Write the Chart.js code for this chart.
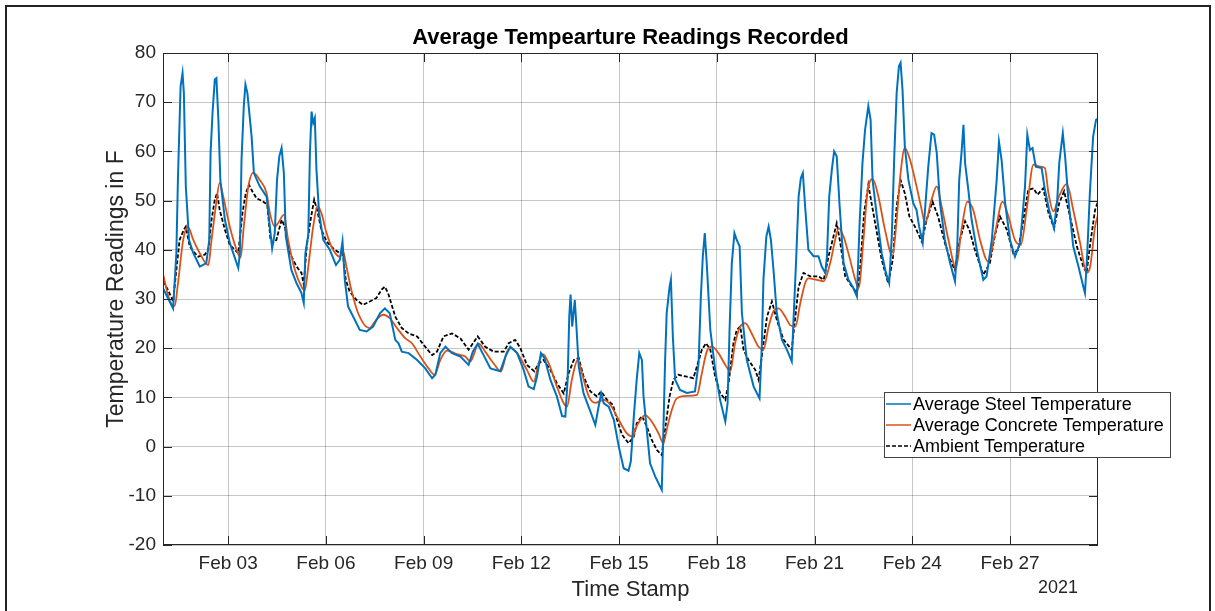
<!DOCTYPE html>
<html>
<head>
<meta charset="utf-8">
<script src="https://cdn.jsdelivr.net/npm/chart.js@4"></script>
<style>
    body { margin: 0; background: #fff; }
    #wrap { width: 1215px; height: 611px; position: relative; }
</style>
</head>
<body>
<div id="wrap"><canvas id="temp-chart"></canvas></div>
<script>
// time axis: day of February 2021 (3 = Feb 03 00:00)
const xTickDays = [3, 6, 9, 12, 15, 18, 21, 24, 27];
const xTickLabels = ['Feb 03', 'Feb 06', 'Feb 09', 'Feb 12', 'Feb 15', 'Feb 18', 'Feb 21', 'Feb 24', 'Feb 27'];
const yTicks = [-20, -10, 0, 10, 20, 30, 40, 50, 60, 70, 80];
const seriesNames = ['Average Steel Temperature', 'Average Concrete Temperature', 'Ambient Temperature'];

const steelTime = [1.00, 1.31, 1.41, 1.46, 1.54, 1.60, 1.64, 1.70, 1.80, 1.93, 2.13, 2.33, 2.42, 2.46, 2.52, 2.59, 2.64, 2.70, 2.76, 2.90,
    3.05, 3.31, 3.36, 3.41, 3.48, 3.53, 3.59, 3.64, 3.72, 3.79, 3.97, 4.18, 4.28, 4.35, 4.43, 4.50, 4.57, 4.64, 4.71, 4.77,
    4.94, 5.10, 5.25, 5.32, 5.37, 5.46, 5.51, 5.56, 5.61, 5.66, 5.71, 5.79, 5.92, 6.12, 6.31, 6.43, 6.51, 6.58, 6.68, 6.84,
    7.04, 7.25, 7.45, 7.66, 7.81, 7.96, 8.13, 8.23, 8.33, 8.54, 8.80, 9.05, 9.26, 9.36, 9.51, 9.67, 9.87, 10.13, 10.38, 10.51,
    10.66, 10.84, 11.05, 11.35, 11.51, 11.66, 11.87, 12.07, 12.22, 12.38, 12.48, 12.60, 12.71, 12.89, 13.09, 13.25, 13.35, 13.42, 13.47, 13.51,
    13.56, 13.64, 13.69, 13.76, 13.91, 14.12, 14.27, 14.37, 14.45, 14.53, 14.68, 14.84, 14.99, 15.14, 15.29, 15.36, 15.45, 15.54, 15.62, 15.70,
    15.75, 15.85, 15.95, 16.11, 16.31, 16.36, 16.41, 16.46, 16.55, 16.59, 16.65, 16.72, 16.87, 17.08, 17.33, 17.44, 17.51, 17.57, 17.63, 17.69,
    17.80, 17.95, 18.10, 18.26, 18.33, 18.39, 18.46, 18.54, 18.61, 18.70, 18.77, 18.92, 19.13, 19.31, 19.38, 19.43, 19.52, 19.59, 19.66, 19.74,
    19.84, 20.00, 20.15, 20.30, 20.35, 20.43, 20.51, 20.58, 20.64, 20.71, 20.81, 20.97, 21.12, 21.22, 21.33, 21.38, 21.45, 21.53, 21.60, 21.68,
    21.77, 21.89, 22.04, 22.17, 22.30, 22.38, 22.47, 22.55, 22.65, 22.72, 22.78, 22.90, 23.06, 23.19, 23.29, 23.37, 23.45, 23.52, 23.59, 23.64,
    23.70, 23.77, 23.88, 24.03, 24.13, 24.21, 24.32, 24.39, 24.49, 24.59, 24.67, 24.75, 24.85, 25.00, 25.16, 25.31, 25.38, 25.44, 25.51, 25.57,
    25.62, 25.72, 25.82, 25.98, 26.18, 26.28, 26.44, 26.59, 26.66, 26.74, 26.85, 27.00, 27.15, 27.31, 27.46, 27.53, 27.61, 27.69, 27.79, 27.97,
    28.07, 28.20, 28.35, 28.45, 28.51, 28.62, 28.69, 28.79, 28.94, 29.10, 29.25, 29.30, 29.37, 29.45, 29.55, 29.64, 29.72];
const steelTemp = [32.2, 28.1, 39.3, 54.9, 73.2, 75.9, 71.9, 52.9, 42, 39.3, 36.6, 37.3, 42, 59.7, 67.8, 74.6, 74.9, 66.4, 54.2, 46.1,
    41.4, 36.3, 39.3, 58.3, 69.2, 73.6, 71.9, 68.5, 63, 55.6, 52.9, 50.8, 44.7, 40.3, 43.4, 54.2, 59, 60.7, 55.6, 42.7,
    35.9, 33.2, 31.2, 29.2, 39.3, 43.1, 59.7, 68.1, 65.8, 66.8, 56.3, 47.5, 42, 40, 36.9, 38, 41.7, 33.9, 28.5, 26.4,
    23.7, 23.4, 24.4, 27.1, 28.1, 27.1, 21.7, 21, 19.3, 19, 17.6, 15.9, 13.9, 14.6, 19, 20.3, 19, 18.3, 16.6, 19.3,
    20.9, 18.6, 15.9, 15.3, 18.3, 20.3, 19, 15.6, 12.2, 11.7, 14.2, 19, 18, 13.6, 10.2, 6.2, 6.1, 13.6, 26.4, 30.9,
    24.4, 29.8, 24.4, 16.3, 10.8, 7.1, 4.4, 8.1, 10.8, 8.8, 8.1, 5.4, 0, -4.4, -4.9, -3, 6, 13.6, 19, 17.6,
    10.2, 3.4, -3.4, -6.1, -8.8, 3.4, 17, 27.1, 32.5, 33.9, 22.4, 13.6, 11.5, 10.9, 11.2, 17, 30.5, 38.7, 43.4, 37.3,
    23.7, 15.6, 9.5, 5.1, 8.8, 23.7, 37.3, 43.4, 42, 40.7, 27.1, 17.6, 12.2, 9.8, 20.3, 33.9, 42.7, 44.7, 42, 35.9,
    27.1, 21.7, 19.7, 17.3, 25.1, 37.3, 50.8, 54.6, 55.6, 48.8, 40, 38.7, 38.7, 36.6, 35.3, 38.7, 50.8, 56.3, 60, 59,
    48.8, 37.3, 33.9, 32.5, 30.5, 45, 57.6, 64.4, 69.2, 66.4, 54.2, 47.5, 39.3, 35.3, 33.2, 42.7, 59.7, 71.9, 77.3, 78,
    72.5, 61, 54.2, 49.5, 48.1, 44.7, 41.4, 48.1, 56.9, 63.7, 63.4, 59.7, 49.5, 42, 37.3, 33.6, 40.7, 54.2, 59.7, 65.4,
    57.6, 52.2, 46.1, 40, 33.9, 34.6, 42, 54.2, 62, 58.3, 49.5, 42, 38.6, 41.4, 52.9, 63.4, 60.3, 60.7, 56.9, 56.6,
    52.2, 48.1, 44.4, 50.2, 57.6, 63.7, 59, 50.2, 40.7, 36.6, 32.5, 31.2, 39.3, 51.5, 63, 66.4, 66.8];

const concreteTime = [1.00, 1.20, 1.36, 1.46, 1.62, 1.77, 1.93, 2.13, 2.39, 2.49, 2.62, 2.74, 2.85, 3.05, 3.26, 3.38, 3.48, 3.62, 3.77, 3.97,
    4.18, 4.28, 4.43, 4.53, 4.71, 4.84, 5.05, 5.25, 5.35, 5.46, 5.61, 5.74, 5.86, 6.02, 6.22, 6.43, 6.53, 6.63, 6.78, 6.99,
    7.33, 7.55, 7.76, 7.96, 8.18, 8.44, 8.64, 8.90, 9.15, 9.34, 9.51, 9.72, 10.02, 10.28, 10.43, 10.69, 10.89, 11.15, 11.37, 11.56,
    11.68, 11.87, 12.17, 12.38, 12.53, 12.66, 12.84, 13.09, 13.30, 13.40, 13.55, 13.73, 13.86, 14.07, 14.27, 14.53, 14.73, 14.99, 15.24, 15.43,
    15.49, 15.65, 15.80, 16.00, 16.21, 16.36, 16.46, 16.62, 16.77, 17.08, 17.39, 17.54, 17.69, 17.85, 18.05, 18.26, 18.41, 18.56, 18.72, 18.87,
    19.07, 19.28, 19.43, 19.59, 19.74, 19.89, 20.10, 20.25, 20.41, 20.56, 20.71, 20.81, 21.07, 21.28, 21.48, 21.63, 21.74, 21.89, 22.09, 22.25,
    22.35, 22.50, 22.62, 22.78, 22.96, 23.16, 23.39, 23.52, 23.64, 23.77, 23.93, 24.13, 24.29, 24.39, 24.59, 24.75, 24.90, 25.11, 25.34, 25.51,
    25.69, 25.87, 26.08, 26.33, 26.54, 26.77, 26.95, 27.15, 27.33, 27.51, 27.72, 27.92, 28.07, 28.18, 28.33, 28.50, 28.74, 28.94, 29.15, 29.35,
    29.46, 29.61, 29.72];
const concreteTemp = [35.1, 29.8, 28.6, 33.2, 42, 44.6, 42, 39.3, 36.9, 42, 48.8, 53.6, 50.8, 44.7, 40, 38.4, 44.7, 52.9, 55.7, 54.2,
    51.5, 47.5, 44.7, 45.4, 47.1, 42, 35.9, 32.5, 31.7, 36.6, 44.7, 48.8, 47.5, 43.4, 40, 38.6, 39.7, 36.6, 31.9, 27.1,
    24.1, 25.8, 26.8, 26.1, 24.1, 22, 21, 18.3, 15.9, 14.6, 17.6, 19.5, 18.8, 18.3, 17.3, 20.9, 19.3, 16.9, 15.3, 19.3,
    20, 19, 15.6, 13.2, 16.9, 18.8, 16.9, 12.2, 8.8, 8.1, 13.6, 17.6, 14.9, 10.2, 8.9, 9.5, 8.5, 5.4, 2.7, 2,
    3.4, 5.4, 6.4, 5.1, 2.7, 0.7, 3.4, 7.5, 9.8, 10.3, 10.5, 14.9, 19.3, 20.3, 19, 16.6, 15.3, 21, 24.4, 25.1,
    23, 20.3, 19.7, 24.4, 27.5, 28.1, 26.4, 24.7, 24.4, 29.1, 33.2, 34.2, 33.9, 33.6, 37.3, 42, 44.4, 42.7, 38, 33.9,
    32.2, 42, 51.5, 54.4, 50.8, 44.1, 38.8, 46.1, 55.6, 60.7, 58.3, 52.9, 48.1, 45.4, 50.2, 52.9, 48.8, 42, 36.3, 44.1,
    49.8, 48.1, 42, 37.6, 43.4, 49.8, 46.8, 42, 41, 48.1, 57.3, 56.9, 56.6, 51.5, 47.8, 50.8, 53.4, 48.1, 41.4, 35.3,
    36.6, 44.7, 47.5];

const ambientTime = [1.00, 1.15, 1.31, 1.41, 1.51, 1.64, 1.70, 1.82, 1.93, 2.08, 2.28, 2.39, 2.49, 2.59, 2.66, 2.74, 2.90, 3.05, 3.31, 3.44,
    3.54, 3.64, 3.74, 3.87, 4.07, 4.20, 4.30, 4.38, 4.48, 4.64, 4.74, 4.89, 5.10, 5.25, 5.32, 5.41, 5.53, 5.64, 5.73, 5.86,
    6.02, 6.22, 6.43, 6.51, 6.61, 6.73, 6.94, 7.14, 7.35, 7.55, 7.71, 7.81, 7.91, 8.13, 8.33, 8.54, 8.80, 9.00, 9.26, 9.41,
    9.61, 9.87, 10.13, 10.38, 10.66, 10.89, 11.15, 11.46, 11.61, 11.81, 11.97, 12.17, 12.40, 12.53, 12.68, 12.89, 13.09, 13.30, 13.45, 13.61,
    13.76, 13.91, 14.12, 14.32, 14.45, 14.63, 14.81, 14.94, 15.09, 15.29, 15.45, 15.54, 15.70, 15.85, 16.00, 16.16, 16.31, 16.41, 16.55, 16.67,
    16.82, 17.08, 17.28, 17.39, 17.54, 17.67, 17.80, 17.95, 18.10, 18.26, 18.36, 18.51, 18.61, 18.72, 18.82, 18.97, 19.18, 19.28, 19.38, 19.54,
    19.69, 19.84, 20.05, 20.30, 20.41, 20.51, 20.66, 20.87, 21.12, 21.28, 21.43, 21.58, 21.68, 21.79, 21.94, 22.15, 22.30, 22.39, 22.52, 22.65,
    22.75, 22.88, 23.06, 23.26, 23.40, 23.52, 23.64, 23.77, 23.91, 24.08, 24.29, 24.44, 24.62, 24.79, 25.00, 25.16, 25.31, 25.46, 25.62, 25.75,
    25.92, 26.18, 26.38, 26.54, 26.69, 26.90, 27.10, 27.25, 27.41, 27.56, 27.72, 27.84, 28.02, 28.18, 28.35, 28.51, 28.66, 28.84, 29.05, 29.25,
    29.35, 29.45, 29.61, 29.72];
const ambientTemp = [33.6, 31.9, 29.5, 35.9, 42, 44.1, 44.7, 40.7, 39.7, 38.6, 39, 40, 46.1, 50.2, 51.5, 48.1, 44.1, 41, 39.3, 47.5,
    51.5, 53.2, 51.9, 50.5, 49.8, 49.2, 42, 41.4, 42, 46.1, 44.7, 39.3, 36.6, 35.3, 32.9, 40.7, 46.1, 50.2, 48.1, 44.1,
    41.7, 40.3, 39.3, 40, 33.9, 31.5, 29.8, 28.8, 29.5, 30.2, 31.9, 32.5, 31.2, 26.4, 24.1, 23, 22.4, 20.7, 18.6, 19.3,
    22.4, 23, 22, 19.7, 22.4, 20.3, 19.3, 19.3, 21, 21.7, 20, 16.6, 15.3, 16.9, 17.6, 15.6, 12.9, 10.8, 14.9, 17.6,
    18, 14.2, 11.2, 10.2, 11.2, 9.5, 8.5, 5.4, 2.4, 0.7, 2, 4.7, 6.2, 4.1, 1.4, -0.7, -1.7, 3.4, 10.2, 13.6,
    14.6, 14.2, 13.9, 16.3, 19.7, 21, 19.7, 14.2, 10.9, 9.5, 12.9, 21, 23.7, 24.4, 19.7, 17.6, 15.6, 13.6, 18.3, 26.4,
    29.5, 25.8, 21.7, 19.7, 26.4, 32.5, 35.3, 34.6, 34.6, 33.9, 38.7, 42.7, 45.4, 41.4, 34.6, 32.5, 31.2, 35.3, 47.5, 53.2,
    49.5, 44.7, 38, 33.2, 38, 48.8, 54.2, 51.5, 46.8, 44.7, 41.7, 46.1, 49.8, 46.8, 41.4, 38, 35.9, 42, 45.8, 44.1,
    40, 34.9, 37.3, 43.1, 46.8, 44.1, 39.3, 40, 46.1, 52.2, 52.5, 51.2, 52.5, 47.5, 44.4, 49.5, 51.9, 46.8, 40.7, 36.6,
    35.3, 40.7, 48.1, 50.2];

const textColor = '#262626';
const fontFamily = '"Liberation Sans", Arial, Helvetica, sans-serif';
Chart.defaults.font.family = fontFamily;

function toPoints(times, temps) {
    return times.map((t, i) => ({ x: t, y: temps[i] }));
}

// MATLAB-like frame, inward ticks, texts and legend
const matlabDecor = {
    id: 'matlabDecor',
    afterDraw(chart) {
        const ctx = chart.ctx;
        const area = chart.chartArea;
        const xs = chart.scales.x;
        const ys = chart.scales.y;
        ctx.save();

        // axes box
        ctx.strokeStyle = textColor;
        ctx.lineWidth = 1;
        ctx.strokeRect(area.left + 0.5, area.top + 0.5, area.right - area.left - 1, area.bottom - area.top - 1);

        // inward ticks
        ctx.beginPath();
        xTickDays.forEach(d => {
            const px = Math.round(xs.getPixelForValue(d)) + 0.5;
            ctx.moveTo(px, area.bottom); ctx.lineTo(px, area.bottom - 9);
            ctx.moveTo(px, area.top); ctx.lineTo(px, area.top + 9);
        });
        yTicks.forEach(v => {
            const py = Math.round(ys.getPixelForValue(v)) + 0.5;
            ctx.moveTo(area.left, py); ctx.lineTo(area.left + 9, py);
            ctx.moveTo(area.right, py); ctx.lineTo(area.right - 9, py);
        });
        ctx.stroke();

        // title and axis labels
        const cx = (area.left + area.right) / 2;
        ctx.fillStyle = '#000';
        ctx.textAlign = 'center';
        ctx.textBaseline = 'alphabetic';
        ctx.font = 'bold 22px ' + fontFamily;
        ctx.fillText('Average Tempearture Readings Recorded', cx, 44);

        ctx.fillStyle = textColor;
        ctx.font = '22px ' + fontFamily;
        ctx.fillText('Time Stamp', cx, 596);
        ctx.font = '18px ' + fontFamily;
        ctx.fillText('2021', 1058, 593);

        ctx.save();
        ctx.translate(123, 289);
        ctx.rotate(-Math.PI / 2);
        ctx.font = '23px ' + fontFamily;
        ctx.fillText('Temperature Readings in F', 0, 0);
        ctx.restore();

        // legend
        const lx = 884, ly = 392, lw = 286, lh = 65;
        ctx.fillStyle = '#fff';
        ctx.fillRect(lx, ly, lw, lh);
        ctx.strokeStyle = '#444';
        ctx.lineWidth = 1;
        ctx.strokeRect(lx + 0.5, ly + 0.5, lw, lh);
        ctx.font = '18px ' + fontFamily;
        ctx.textAlign = 'left';
        ctx.textBaseline = 'middle';
        chart.data.datasets.forEach((ds, i) => {
            const ry = ly + 12 + i * 21;
            ctx.strokeStyle = ds.borderColor;
            ctx.lineWidth = 1.5;
            ctx.setLineDash(ds.borderDash || []);
            ctx.beginPath();
            ctx.moveTo(lx + 2, ry); ctx.lineTo(lx + 27, ry);
            ctx.stroke();
            ctx.setLineDash([]);
            ctx.fillStyle = '#000';
            ctx.fillText(seriesNames[i], lx + 29, ry + 1);
        });

        // figure border
        ctx.strokeStyle = '#222';
        ctx.lineWidth = 2;
        ctx.strokeRect(6, 6, 1204, 610);
        ctx.restore();
    }
};

const tempChart = new Chart(document.getElementById('temp-chart'), {
    type: 'line',
    data: {
        datasets: [
            {
                label: seriesNames[0],
                data: toPoints(steelTime, steelTemp),
                borderColor: '#0072BD',
                borderWidth: 2,
                pointRadius: 0,
                tension: 0
            },
            {
                label: seriesNames[1],
                data: toPoints(concreteTime, concreteTemp),
                borderColor: '#D95319',
                borderWidth: 1.8,
                pointRadius: 0,
                cubicInterpolationMode: 'monotone'
            },
            {
                label: seriesNames[2],
                data: toPoints(ambientTime, ambientTemp),
                borderColor: '#000000',
                borderWidth: 1.8,
                borderDash: [4, 2],
                pointRadius: 0,
                tension: 0
            }
        ]
    },
    options: {
        responsive: true,
        maintainAspectRatio: false,
        animation: false,
        layout: { padding: { left: 0, right: 117, top: 53, bottom: 0 } },
        plugins: {
            legend: { display: false },
            title: { display: false },
            tooltip: { enabled: false }
        },
        scales: {
            x: {
                type: 'linear',
                min: 1,
                max: 29.7,
                afterBuildTicks: (scale) => { scale.ticks = xTickDays.map(v => ({ value: v })); },
                afterFit: (scale) => { scale.height = 66; },
                ticks: {
                    callback: (value) => xTickLabels[xTickDays.indexOf(value)],
                    color: textColor,
                    font: { size: 19 },
                    padding: 7,
                    maxRotation: 0,
                    autoSkip: false
                },
                grid: { color: 'rgba(0,0,0,0.22)', drawTicks: false },
                border: { display: false }
            },
            y: {
                min: -20,
                max: 80,
                afterBuildTicks: (scale) => { scale.ticks = yTicks.map(v => ({ value: v })); },
                afterFit: (scale) => { scale.width = 163; },
                ticks: {
                    color: textColor,
                    font: { size: 19 },
                    padding: 7
                },
                grid: { color: 'rgba(0,0,0,0.22)', drawTicks: false },
                border: { display: false }
            }
        }
    },
    plugins: [matlabDecor]
});
</script>
</body>
</html>
